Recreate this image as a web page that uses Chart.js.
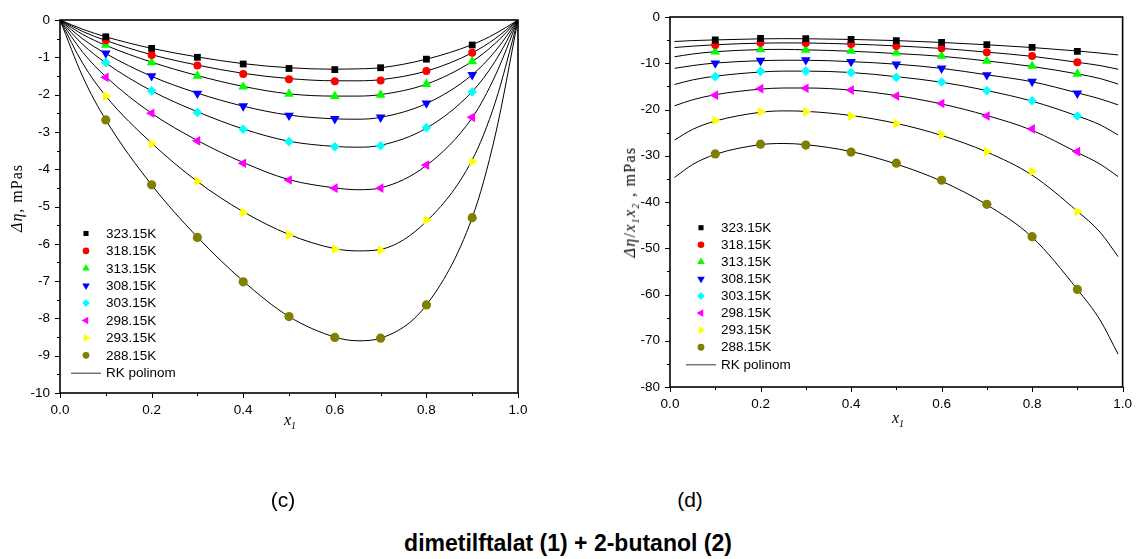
<!DOCTYPE html>
<html><head><meta charset="utf-8">
<script src="https://cdn.jsdelivr.net/npm/chart.js@4.4.1/dist/chart.umd.min.js"></script>
<style>
html,body{margin:0;padding:0;background:#fff}
body{width:1136px;height:559px;position:relative;overflow:hidden;font-family:"Liberation Sans",Arial,sans-serif;color:#000}
#cl{position:absolute;left:0;top:0}
#cr{position:absolute;left:600px;top:0}
.ytitle{position:absolute;white-space:nowrap;font-family:"Liberation Serif","Times New Roman",serif;font-size:16px;letter-spacing:1px;transform:translate(-50%,-50%) rotate(-90deg)}
.xtitle{position:absolute;white-space:nowrap;font-family:"Liberation Serif","Times New Roman",serif;font-size:16px;font-style:italic;transform:translate(-50%,-50%)}
.ytitle sub,.xtitle sub{font-size:10px;font-style:italic}
.cap{position:absolute;white-space:nowrap;font-size:21px;transform:translate(-50%,-50%)}
.title{position:absolute;white-space:nowrap;font-size:23px;font-weight:bold;transform:translate(-50%,-50%)}
</style></head>
<body>
<canvas id="cl" width="540" height="430"></canvas>
<canvas id="cr" width="536" height="430"></canvas>
<div class="ytitle" style="left:17px;top:198px"><i>Δη</i>, mPas</div>
<div class="ytitle" style="left:631px;top:202px;letter-spacing:1.3px"><i>Δη</i>/<i>x</i><sub>1</sub><i>x</i><sub>2</sub> , mPas</div>
<div class="xtitle" style="left:290px;top:421px">x<sub>1</sub></div>
<div class="xtitle" style="left:898px;top:419px">x<sub>1</sub></div>
<div class="cap" style="left:283px;top:500px">(c)</div>
<div class="cap" style="left:690px;top:500px">(d)</div>
<div class="title" style="left:568px;top:543px">dimetilftalat (1) + 2-butanol (2)</div>
<script>
// ---------- data ----------
const temps = ['323.15K','318.15K','313.15K','308.15K','303.15K','298.15K','293.15K','288.15K'];
const colors = ['#000000','#ff0000','#00ff00','#0000ff','#00ffff','#ff00ff','#ffff00','#808000'];
const x1 = [0.1,0.2,0.3,0.4,0.5,0.6,0.7,0.8,0.9];

// (c) Δη, mPas
const dEta323 = [-0.45,-0.76,-1.00,-1.18,-1.30,-1.33,-1.28,-1.05,-0.67];
const dEta318 = [-0.54,-0.94,-1.22,-1.45,-1.59,-1.64,-1.62,-1.37,-0.88];
const dEta313 = [-0.67,-1.14,-1.50,-1.79,-1.98,-2.04,-2.01,-1.72,-1.11];
const dEta308 = [-0.89,-1.50,-1.97,-2.31,-2.56,-2.65,-2.61,-2.23,-1.47];
const dEta303 = [-1.14,-1.90,-2.48,-2.93,-3.26,-3.40,-3.37,-2.89,-1.93];
const dEta298 = [-1.54,-2.50,-3.24,-3.84,-4.29,-4.51,-4.51,-3.89,-2.61];
const dEta293 = [-2.04,-3.32,-4.32,-5.16,-5.76,-6.14,-6.17,-5.36,-3.80];
const dEta288 = [-2.68,-4.42,-5.83,-7.02,-7.95,-8.51,-8.53,-7.64,-5.30];

// (c) RK polinom curves
const fitXc = [0,0.05,0.1,0.2,0.3,0.4,0.5,0.6,0.65,0.7,0.8,0.9,0.95,1.0];
const fitC323 = [0,-0.25,-0.45,-0.76,-0.99,-1.17,-1.28,-1.32,-1.31,-1.28,-1.05,-0.66,-0.37,0];
const fitC318 = [0,-0.31,-0.55,-0.93,-1.21,-1.43,-1.57,-1.63,-1.63,-1.60,-1.37,-0.88,-0.50,0];
const fitC313 = [0,-0.39,-0.68,-1.13,-1.49,-1.78,-1.98,-2.04,-2.04,-2.00,-1.72,-1.11,-0.63,0];
const fitC308 = [0,-0.51,-0.90,-1.51,-1.96,-2.31,-2.55,-2.65,-2.66,-2.61,-2.24,-1.47,-0.84,0];
const fitC303 = [0,-0.66,-1.15,-1.90,-2.46,-2.92,-3.25,-3.39,-3.41,-3.36,-2.90,-1.92,-1.11,0];
const fitC298 = [0,-0.87,-1.52,-2.50,-3.23,-3.82,-4.28,-4.50,-4.55,-4.50,-3.90,-2.62,-1.50,0];
const fitC293 = [0,-1.17,-2.04,-3.30,-4.33,-5.14,-5.75,-6.13,-6.19,-6.15,-5.40,-3.75,-2.22,0];
const fitC288 = [0,-1.53,-2.68,-4.42,-5.82,-7.00,-7.95,-8.50,-8.60,-8.53,-7.64,-5.30,-3.11,0];

// (d) Δη/x1x2, mPas
const ratio323 = [-4.97,-4.61,-4.68,-4.83,-5.12,-5.48,-5.98,-6.56,-7.42];
const ratio318 = [-6.05,-5.55,-5.62,-5.84,-6.27,-6.77,-7.64,-8.43,-9.80];
const ratio313 = [-7.50,-6.99,-7.14,-7.35,-7.71,-8.43,-9.51,-10.60,-12.30];
const ratio308 = [-10.00,-9.44,-9.30,-9.66,-10.23,-11.10,-12.54,-13.98,-16.50];
const ratio303 = [-12.90,-11.75,-11.70,-12.00,-13.05,-14.05,-15.93,-18.10,-21.40];
const ratio298 = [-16.90,-15.50,-15.40,-15.80,-17.08,-18.70,-21.40,-24.20,-29.10];
const ratio293 = [-22.40,-20.50,-20.50,-21.40,-23.00,-25.40,-29.10,-33.40,-42.10];
const ratio288 = [-29.60,-27.50,-27.70,-29.20,-31.60,-35.30,-40.50,-47.50,-58.90];

// (d) RK polinom curves
const fitXd = [0.01,0.05,0.1,0.2,0.25,0.3,0.4,0.5,0.6,0.7,0.8,0.9,0.95,0.99];
const fitD323 = [-5.3,-5.1,-4.95,-4.72,-4.68,-4.70,-4.85,-5.10,-5.50,-6.00,-6.60,-7.35,-7.80,-8.20];
const fitD318 = [-6.6,-6.3,-6.0,-5.65,-5.60,-5.62,-5.85,-6.25,-6.80,-7.60,-8.50,-9.80,-10.50,-11.30];
const fitD313 = [-8.6,-8.0,-7.5,-7.05,-7.00,-7.10,-7.40,-7.90,-8.50,-9.50,-10.70,-12.30,-13.30,-14.50];
const fitD308 = [-11.1,-10.5,-9.95,-9.45,-9.35,-9.35,-9.65,-10.20,-11.10,-12.50,-14.00,-16.40,-17.70,-19.00];
const fitD303 = [-14.6,-13.6,-12.8,-11.9,-11.70,-11.70,-12.00,-12.90,-14.10,-15.90,-18.20,-21.40,-23.30,-25.50];
const fitD298 = [-19.2,-17.9,-16.8,-15.6,-15.35,-15.35,-15.80,-17.00,-18.80,-21.30,-24.50,-29.30,-31.80,-34.50];
const fitD293 = [-26.6,-24.3,-22.5,-20.6,-20.30,-20.40,-21.30,-23.00,-25.60,-29.20,-34.20,-42.00,-46.50,-51.80];
const fitD288 = [-34.7,-31.9,-29.7,-27.6,-27.35,-27.60,-29.10,-31.80,-35.50,-40.60,-47.60,-58.90,-65.50,-72.90];

// ---------- styles ----------
const markers = [
  {style:'rect',rot:0,r:4.8,lr:3.6},
  {style:'circle',rot:0,r:4,lr:3.3},
  {style:'triangle',rot:0,r:5.6,lr:4.4},
  {style:'triangle',rot:180,r:5.6,lr:4.4},
  {style:'rectRot',rot:0,r:4.8,lr:3.9},
  {style:'triangle',rot:-90,r:5.6,lr:4.4},
  {style:'triangle',rot:90,r:5.6,lr:4.4},
  {style:'circle',rot:0,r:4.6,lr:3.4}
];
const FONT = '"Liberation Sans", Arial, sans-serif';

function pts(xs, ys){ return xs.map((x,i)=>({x:x,y:ys[i]})); }

function buildDatasets(pointSets, fitX, fitSets){
  const ds = [];
  pointSets.forEach((ys,i)=>{
    ds.push({label:temps[i], data:pts(x1,ys), showLine:false, order:0,
      pointStyle:markers[i].style, pointRotation:markers[i].rot, pointRadius:markers[i].r,
      pointBackgroundColor:colors[i], pointBorderWidth:0, pointHoverRadius:markers[i].r});
  });
  fitSets.forEach((ys,i)=>{
    ds.push({label:'RK polinom', data:pts(fitX,ys), showLine:true, order:1,
      borderColor:'#000', borderWidth:1, pointRadius:0, fill:false,
      cubicInterpolationMode:'monotone'});
  });
  return ds;
}

function drawMarker(ctx, m, x, y, r, color){
  ctx.fillStyle = color;
  if (Chart.helpers && Chart.helpers.drawPoint) {
    Chart.helpers.drawPoint(ctx, {pointStyle:m.style, rotation:m.rot, radius:r, borderWidth:0}, x, y);
  } else {
    ctx.beginPath(); ctx.arc(x,y,r,0,Math.PI*2); ctx.fill();
  }
}

const framePlugin = {
  id:'frameTicks',
  afterDraw(chart, args, o){
    const {ctx, chartArea:a} = chart;
    const sx = chart.scales.x, sy = chart.scales.y;
    ctx.save();
    ctx.strokeStyle = '#000';
    ctx.lineWidth = 1;
    for (let i=0;i<=o.xN;i++){
      const v = o.xMin + i*o.xStep;
      const px = Math.round(sx.getPixelForValue(v))+0.5;
      const len = (i % 2 === 0) ? 5 : 3;
      ctx.beginPath(); ctx.moveTo(px,a.bottom); ctx.lineTo(px,a.bottom+len); ctx.stroke();
    }
    for (let i=0;i<=o.yN;i++){
      const v = o.yMin + i*o.yStep;
      const py = Math.round(sy.getPixelForValue(v))+0.5;
      const len = (i % 2 === 0) ? 5 : 3;
      ctx.beginPath(); ctx.moveTo(a.left,py); ctx.lineTo(a.left-len,py); ctx.stroke();
    }
    ctx.lineWidth = 1.6;
    ctx.strokeRect(a.left, a.top, a.right-a.left, a.bottom-a.top);
    ctx.restore();
  }
};

const legendPlugin = {
  id:'inLegend',
  afterDraw(chart, args, o){
    const ctx = chart.ctx;
    ctx.save();
    ctx.font = '13.5px ' + FONT;
    ctx.textBaseline = 'middle';
    ctx.textAlign = 'left';
    temps.forEach((t,i)=>{
      const y = o.y0 + i*o.dy;
      drawMarker(ctx, markers[i], o.mx, y, markers[i].lr, colors[i]);
      ctx.fillStyle = '#000';
      ctx.fillText(t, o.tx, y+0.5);
    });
    const yl = o.y0 + 8*o.dy;
    ctx.strokeStyle = '#333'; ctx.lineWidth = 1;
    ctx.beginPath(); ctx.moveTo(o.lx0, yl+0.5); ctx.lineTo(o.lx1, yl+0.5); ctx.stroke();
    ctx.fillStyle = '#000';
    ctx.fillText('RK polinom', o.tx, yl+0.5);
    ctx.restore();
  }
};

function makeChart(id, datasets, cfg){
  return new Chart(document.getElementById(id), {
    type:'scatter',
    data:{datasets:datasets},
    plugins:[framePlugin, legendPlugin],
    options:{
      responsive:false, animation:false, devicePixelRatio:1,
      layout:{padding:cfg.padding},
      events:[],
      plugins:{
        legend:{display:false}, tooltip:{enabled:false},
        frameTicks:cfg.ticks, inLegend:cfg.legend
      },
      scales:{
        x:{type:'linear', min:0, max:1,
          grid:{display:false, drawTicks:true, tickLength:5},
          border:{display:false},
          ticks:{stepSize:0.2, color:'#000', padding:4, font:{family:FONT,size:13.5},
                 callback:v=>Number(v).toFixed(1), maxRotation:0},
          afterFit:s=>{s.height = cfg.xh;}},
        y:{type:'linear', min:cfg.ymin, max:0,
          grid:{display:false, drawTicks:true, tickLength:5},
          border:{display:false},
          ticks:{stepSize:cfg.ystep, color:'#000', padding:5, font:{family:FONT,size:13.5},
                 callback:v=>String(Math.round(v))},
          afterFit:s=>{s.width = cfg.yw;}}
      }
    }
  });
}

makeChart('cl',
  buildDatasets([dEta323,dEta318,dEta313,dEta308,dEta303,dEta298,dEta293,dEta288], fitXc,
                [fitC323,fitC318,fitC313,fitC308,fitC303,fitC298,fitC293,fitC288]),
  {padding:{left:0,top:20,right:22,bottom:0}, xh:37, yw:60, ymin:-10, ystep:1,
   ticks:{xMin:0,xStep:0.1,xN:10,yMin:-10,yStep:0.5,yN:20},
   legend:{mx:86,tx:106,y0:233.5,dy:17.4,lx0:71,lx1:101}});

makeChart('cr',
  buildDatasets([ratio323,ratio318,ratio313,ratio308,ratio303,ratio298,ratio293,ratio288], fitXd,
                [fitD323,fitD318,fitD313,fitD308,fitD303,fitD298,fitD293,fitD288]),
  {padding:{left:0,top:17,right:11,bottom:0}, xh:43, yw:70, ymin:-80, ystep:10,
   ticks:{xMin:0,xStep:0.1,xN:10,yMin:-80,yStep:5,yN:16},
   legend:{mx:101,tx:121,y0:227.7,dy:17.08,lx0:86,lx1:116}});
</script>
</body></html>
